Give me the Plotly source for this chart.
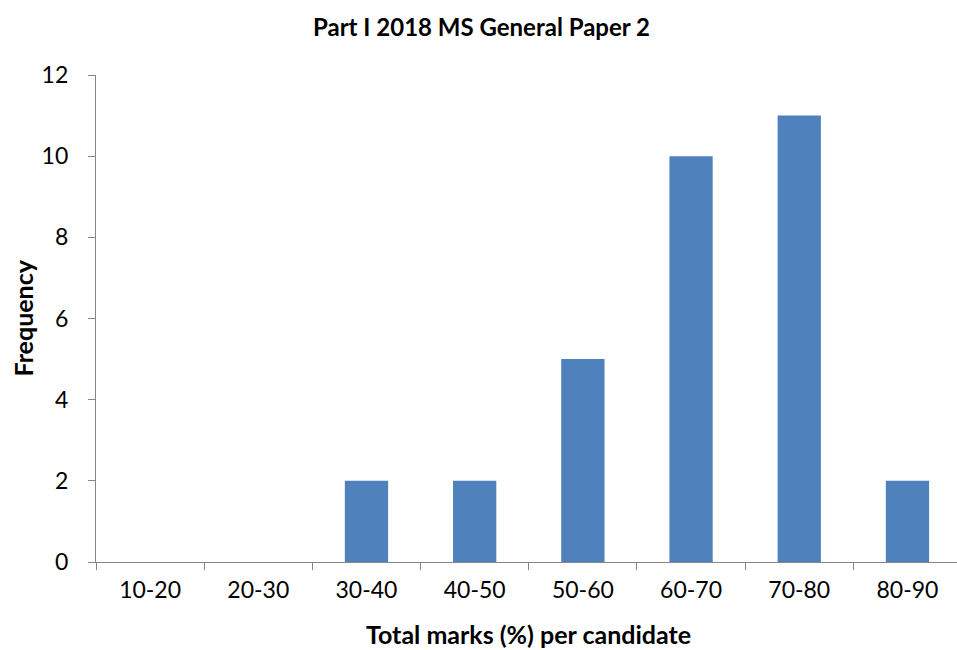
import plotly.graph_objects as go

# Mark distribution for the paper
categories = ["10-20", "20-30", "30-40", "40-50", "50-60", "60-70", "70-80", "80-90"]
frequency = [0, 0, 2, 2, 5, 10, 11, 2]
y_ticks = [0, 2, 4, 6, 8, 10, 12]

title_text = "Part I 2018 MS General Paper 2"
x_title = "Total marks (%) per candidate"
y_title = "Frequency"

W, H = 957, 650
L, T, B = 96, 75, 88
plot_w = W - L

FONT = "Lato, 'Open Sans', sans-serif"
AXIS_COLOR = "#868686"

fig = go.Figure(
    go.Bar(
        x=categories,
        y=frequency,
        width=0.4,
        marker=dict(color="#4F81BD", line=dict(width=0)),
    )
)

fig.update_layout(
    width=W,
    height=H,
    margin=dict(l=L, r=0, t=T, b=B, pad=0),
    paper_bgcolor="white",
    plot_bgcolor="white",
    showlegend=False,
    font=dict(family=FONT, color="#000000"),
    title=dict(
        text="<b>" + title_text + "</b>",
        x=481.5 / W,
        xanchor="center",
        xref="container",
        y=1 - 28 / H,
        yref="container",
        yanchor="middle",
        font=dict(family=FONT, size=24, color="#000000"),
    ),
    xaxis=dict(
        type="category",
        range=[-0.5, 7.458],
        showline=True,
        linecolor=AXIS_COLOR,
        linewidth=1.3,
        ticks="outside",
        tickson="boundaries",
        ticklen=7,
        tickwidth=1.3,
        tickcolor=AXIS_COLOR,
        showgrid=False,
        zeroline=False,
        tickfont=dict(family=FONT, size=23, color="#000000"),
        ticklabelstandoff=7,
    ),
    yaxis=dict(
        range=[0, 12],
        tickvals=y_ticks,
        showline=True,
        linecolor=AXIS_COLOR,
        linewidth=1.3,
        ticks="outside",
        ticklen=7,
        tickwidth=1.3,
        tickcolor=AXIS_COLOR,
        showgrid=False,
        zeroline=False,
        tickfont=dict(family=FONT, size=23, color="#000000"),
        ticklabelstandoff=15,
    ),
    annotations=[
        dict(
            text="<b>" + x_title + "</b>",
            xref="paper",
            yref="paper",
            x=(528.8 - L) / plot_w,
            y=-(634 - (H - B)) / (H - T - B),
            xanchor="center",
            yanchor="middle",
            showarrow=False,
            font=dict(family=FONT, size=25, color="#000000"),
        ),
        dict(
            text="<b>" + y_title + "</b>",
            xref="paper",
            yref="paper",
            x=(22 - L) / plot_w,
            y=0.5,
            xanchor="center",
            yanchor="middle",
            textangle=-90,
            showarrow=False,
            font=dict(family=FONT, size=25, color="#000000"),
        ),
    ],
)

fig.write_html("out.html")
